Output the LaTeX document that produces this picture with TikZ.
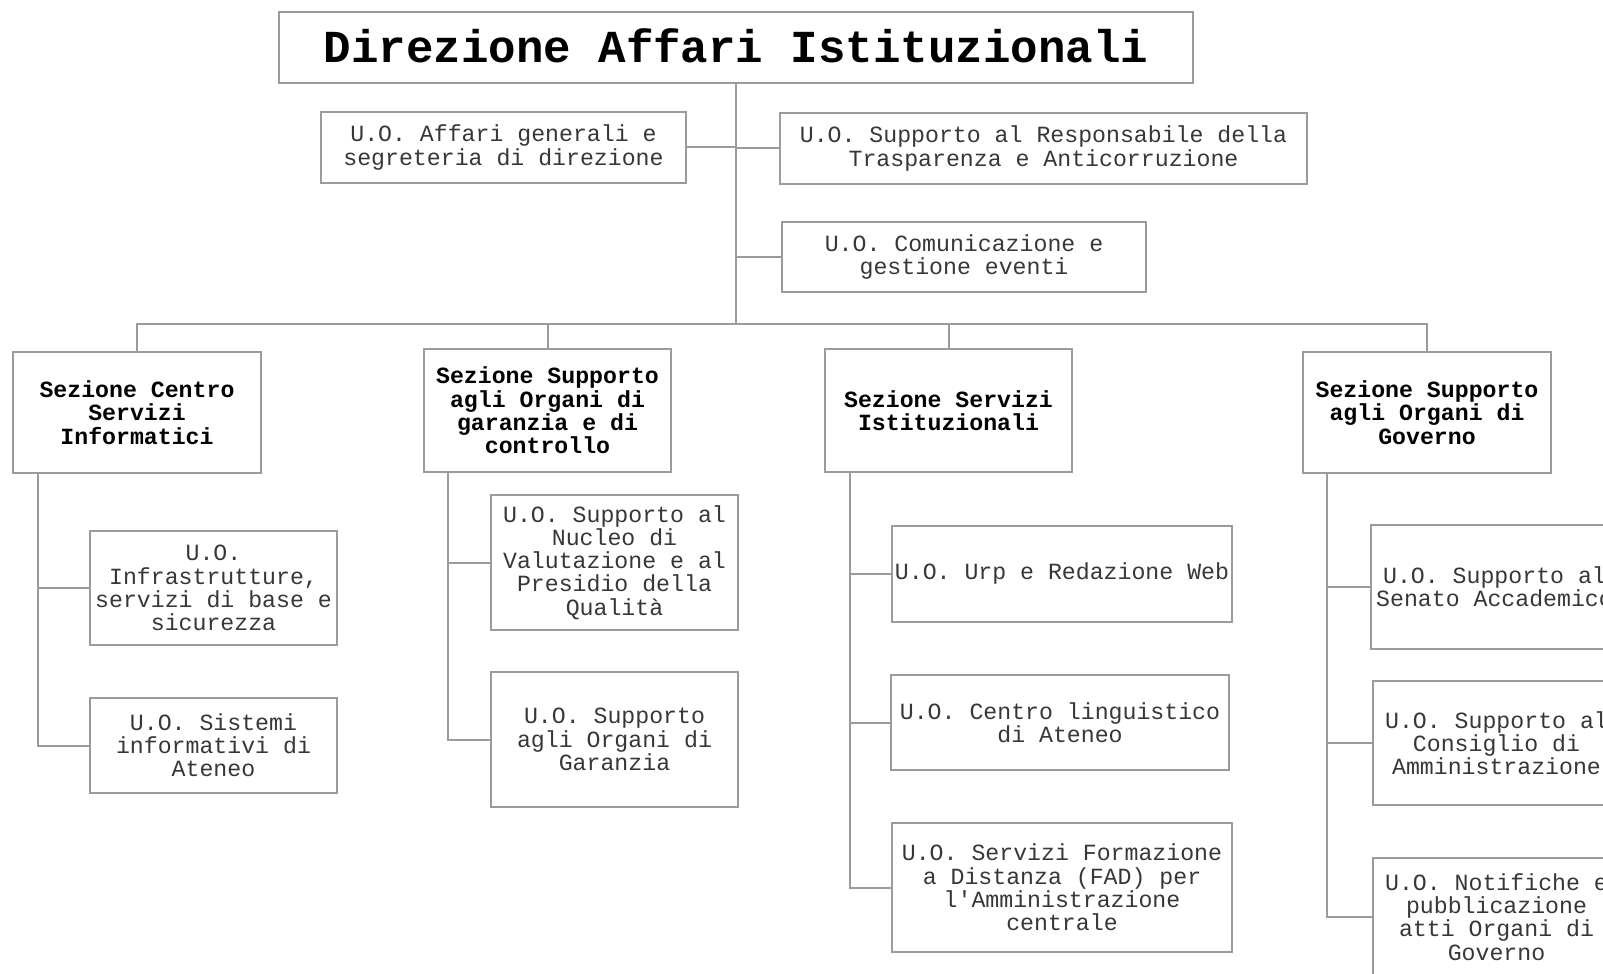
\documentclass[tikz,border=0pt]{standalone}
\usepackage{fontspec}
\setmonofont{Liberation Mono}
\usetikzlibrary{calc}
\definecolor{linegray}{RGB}{155,155,155}
\definecolor{txtgray}{RGB}{55,55,55}
\tikzset{
  box/.style={draw=linegray, line width=1pt, fill=white, inner sep=0pt, align=center,
    text=txtgray, font=\ttfamily\fontsize{11.6pt}{11.6pt}\selectfont},
  sect/.style={box, text=black, font=\ttfamily\bfseries\fontsize{11.6pt}{11.7pt}\selectfont},
  titlebox/.style={box, text=black, font=\ttfamily\bfseries\fontsize{22.9pt}{24pt}\selectfont},
  link/.style={draw=linegray, line width=1pt},
}
\begin{document}
\begin{tikzpicture}[x=0.5pt, y=-0.5pt]
\useasboundingbox (0,0) rectangle (1603,974);
\clip (0,0) rectangle (1603,974);
\fill[white] (0,0) rectangle (1603,974);

% top
\node[titlebox, minimum width=457pt, minimum height=35.5pt] (title) at (736,47.5) {\raisebox{2pt}{Direzione Affari Istituzionali}};
\node[box, minimum width=182.5pt, minimum height=35.5pt] (aff) at (503.5,147.5) {U.O. Affari generali e\\segreteria di direzione};
\node[box, minimum width=263.5pt, minimum height=35.5pt] (trasp) at (1043.5,148.5) {U.O. Supporto al Responsabile della\\Trasparenza e Anticorruzione};
\node[box, minimum width=182pt, minimum height=35pt] (com) at (964,257) {U.O. Comunicazione e\\gestione eventi};

% sections
\node[sect, minimum width=124pt, minimum height=60.5pt] (s1) at (137,412.5) {Sezione Centro\\Servizi\\Informatici};
\node[sect, minimum width=123.5pt, minimum height=61.5pt] (s2) at (547.5,410.5) {Sezione Supporto\\agli Organi di\\garanzia e di\\controllo};
\node[sect, minimum width=123.5pt, minimum height=61.5pt] (s3) at (948.5,410.5) {Sezione Servizi\\Istituzionali};
\node[sect, minimum width=124pt, minimum height=60.5pt] (s4) at (1427,412.5) {Sezione Supporto\\agli Organi di\\Governo};

% children
\node[box, minimum width=123.5pt, minimum height=57pt] (c1a) at (213.5,588) {U.O.\\Infrastrutture,\\servizi di base e\\sicurezza};
\node[box, minimum width=123.5pt, minimum height=47.5pt] (c1b) at (213.5,745.5) {U.O. Sistemi\\informativi di\\Ateneo};
\node[box, minimum width=123.5pt, minimum height=67.5pt] (c2a) at (614.5,562.5) {U.O. Supporto al\\Nucleo di\\Valutazione e al\\Presidio della\\Qualità};
\node[box, minimum width=123.5pt, minimum height=67.5pt] (c2b) at (614.5,739.5) {U.O. Supporto\\agli Organi di\\Garanzia};
\node[box, minimum width=170pt, minimum height=48pt] (c3a) at (1062,574) {U.O. Urp e Redazione Web};
\node[box, minimum width=169pt, minimum height=47.5pt] (c3b) at (1060,722.5) {U.O. Centro linguistico\\di Ateneo};
\node[box, minimum width=170pt, minimum height=64.5pt] (c3c) at (1062,887.5) {U.O. Servizi Formazione\\a Distanza (FAD) per\\l'Amministrazione\\centrale};
\node[box, minimum width=123.5pt, minimum height=62pt] (c4a) at (1494.5,587) {U.O. Supporto al\\Senato Accademico};
\node[box, minimum width=123.5pt, minimum height=62pt] (c4b) at (1496.5,743) {U.O. Supporto al\\Consiglio di\\Amministrazione};
\node[box, minimum width=123.5pt, minimum height=59pt] (c4c) at (1496.5,917) {U.O. Notifiche e\\pubblicazione\\atti Organi di\\Governo};

% connectors
\coordinate (bus) at (736,324);
\draw[link] (title.south) -- (bus);
\draw[link] (aff.east) -- (aff.east -| title.south);
\draw[link] (trasp.west) -- (trasp.west -| title.south);
\draw[link] (com.west) -- (com.west -| title.south);
\draw[link] (s1.north) -- (s1.north |- bus) -- (s4.north |- bus) -- (s4.north);
\draw[link] (s2.north) -- (s2.north |- bus);
\draw[link] (s3.north) -- (s3.north |- bus);

\coordinate (sp1) at ($(s1.south west)+(26,0)$);
\coordinate (sp2) at ($(s2.south west)+(25,0)$);
\coordinate (sp3) at ($(s3.south west)+(26,0)$);
\coordinate (sp4) at ($(s4.south west)+(25,0)$);

\draw[link] (sp1) |- (c1b.west);
\draw[link] (c1a.west) -- (c1a.west -| sp1);
\draw[link] (sp2) |- (c2b.west);
\draw[link] (c2a.west) -- (c2a.west -| sp2);
\draw[link] (sp3) |- (c3c.west);
\draw[link] (c3a.west) -- (c3a.west -| sp3);
\draw[link] (c3b.west) -- (c3b.west -| sp3);
\draw[link] (sp4) |- (c4c.west);
\draw[link] (c4a.west) -- (c4a.west -| sp4);
\draw[link] (c4b.west) -- (c4b.west -| sp4);
\end{tikzpicture}
\end{document}
